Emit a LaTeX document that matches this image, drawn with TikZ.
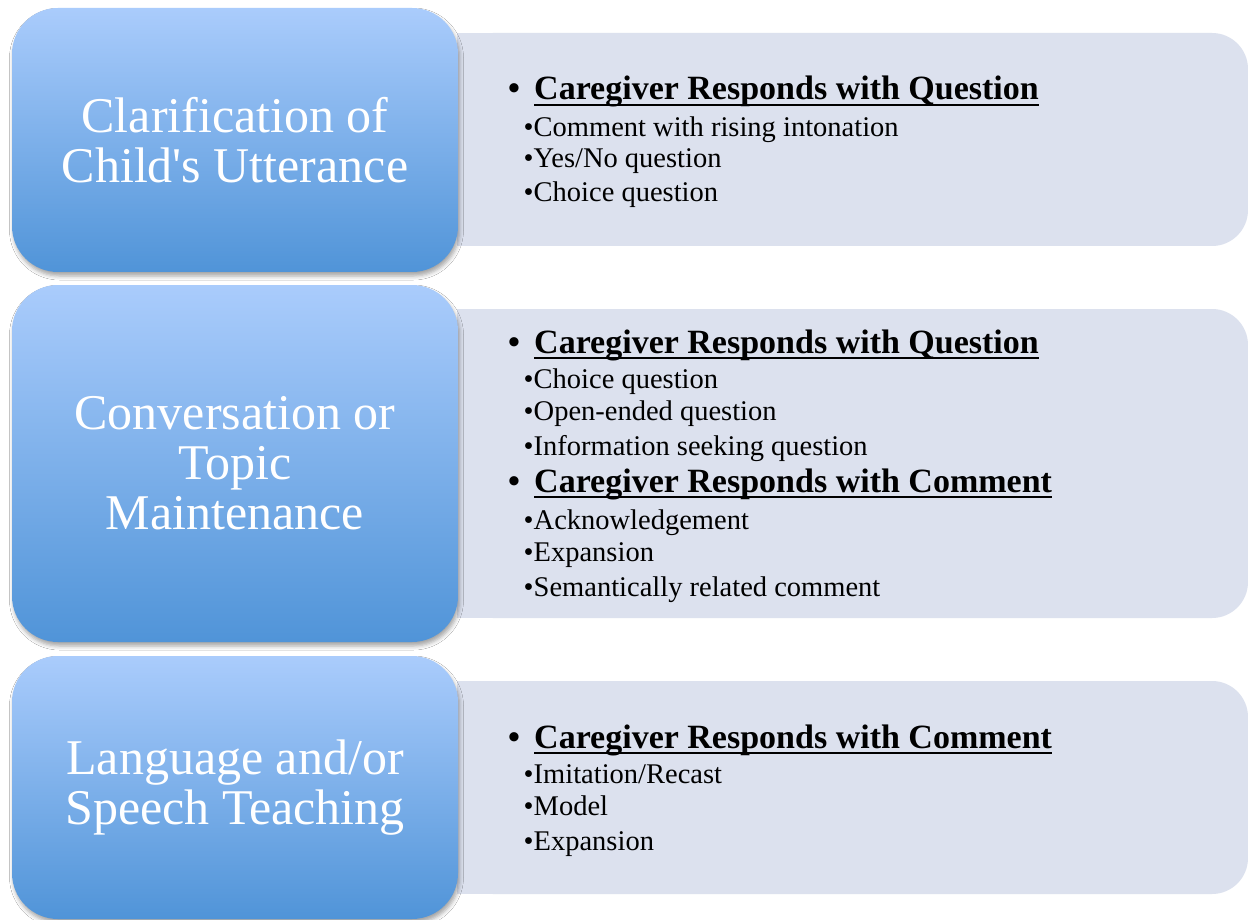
\documentclass[tikz,border=0pt]{standalone}
\usepackage{fontspec}
\setmainfont{Liberation Serif}
\usetikzlibrary{shadows.blur}
\definecolor{btop}{RGB}{170,204,252}
\definecolor{bbot}{RGB}{80,148,216}
\definecolor{gfill}{RGB}{220,225,238}
\begin{document}
\begin{tikzpicture}[x=1pt,y=-1pt,
  bluebox/.style={rounded corners=46pt, top color=btop, bottom color=bbot, draw=none,
    minimum width=446pt, inner sep=0pt, align=center, text=white,
    font=\fontsize{50}{50}\selectfont,
    blur shadow={shadow xshift=1.5pt, shadow yshift=-4pt, shadow blur radius=4pt, shadow opacity=35}},
  graybox/.style={rounded corners=36pt, fill=gfill, draw=none, minimum width=791pt, inner sep=0pt},
  hdbul/.style={anchor=base west, inner sep=0pt, font=\bfseries\fontsize{34}{34}\selectfont},
  hd/.style={anchor=base west, inner sep=0pt, font=\bfseries\fontsize{34}{34}\selectfont},
  itm/.style={anchor=base west, inner sep=0pt, font=\fontsize{28.5}{28.5}\selectfont},
  uline/.style={line width=2pt, black}
]
\useasboundingbox[fill=white] (0,0) rectangle (1248,920);

% gray panels
\node[graybox, minimum height=213pt] (g1) at (852.5,139.5) {};
\fill[gfill] (457,33) rectangle (520,246);
\node[graybox, minimum height=309pt] (g2) at (852.5,463.5) {};
\fill[gfill] (457,309) rectangle (520,618);
\node[graybox, minimum height=213pt] (g3) at (852.5,787.5) {};
\fill[gfill] (457,681) rectangle (520,894);

% blue boxes
\node[bluebox, minimum height=264pt] (b1) at (235,140) {Clarification of\\Child\textquotesingle s Utterance};
\node[bluebox, minimum height=357pt] (b2) at (235,463.5) {Conversation or\\Topic\\Maintenance};
\node[bluebox, minimum height=263pt] (b3) at (235,787.5) {Language and/or\\Speech Teaching};

% panel 1
\node[hdbul] (p1b) at (508,100) {•};
\node[hd] (p1h) at (534,100) {Caregiver Responds with Question};
\draw[uline] ([yshift=-5pt]p1h.base west) -- ([yshift=-5pt]p1h.base east);
\node[itm] (p1i1) at (523.5,137) {•Comment with rising intonation};
\node[itm] (p1i2) at (523.5,168) {•Yes/No question};
\node[itm] (p1i3) at (523.5,202) {•Choice question};

% panel 2
\node[hdbul] (p2b) at (508,353) {•};
\node[hd] (p2h) at (534,353) {Caregiver Responds with Question};
\draw[uline] ([yshift=-5pt]p2h.base west) -- ([yshift=-5pt]p2h.base east);
\node[itm] (p2i1) at (523.5,388) {•Choice question};
\node[itm] (p2i2) at (523.5,420) {•Open-ended question};
\node[itm] (p2i3) at (523.5,455) {•Information seeking question};
\node[hdbul] (p2c) at (508,492) {•};
\node[hd] (p2k) at (534,492) {Caregiver Responds with Comment};
\draw[uline] ([yshift=-5pt]p2k.base west) -- ([yshift=-5pt]p2k.base east);
\node[itm] (p2i4) at (523.5,529) {•Acknowledgement};
\node[itm] (p2i5) at (523.5,561) {•Expansion};
\node[itm] (p2i6) at (523.5,596) {•Semantically related comment};

% panel 3
\node[hdbul] (p3b) at (508,748) {•};
\node[hd] (p3h) at (534,748) {Caregiver Responds with Comment};
\draw[uline] ([yshift=-5pt]p3h.base west) -- ([yshift=-5pt]p3h.base east);
\node[itm] (p3i1) at (523.5,783) {•Imitation/Recast};
\node[itm] (p3i2) at (523.5,815) {•Model};
\node[itm] (p3i3) at (523.5,850) {•Expansion};
\end{tikzpicture}
\end{document}
